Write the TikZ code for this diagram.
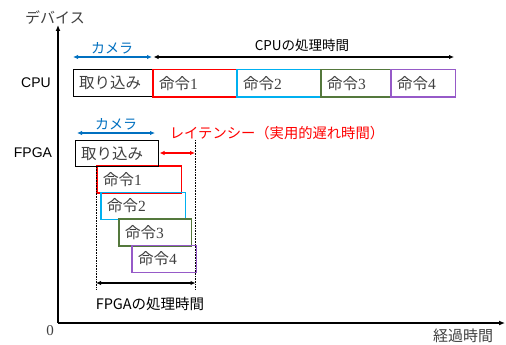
\documentclass[tikz,border=0pt]{standalone}
\usepackage{fontspec}
\setmainfont{Liberation Serif}
\newfontfamily\jp{Noto Sans CJK JP}
\newfontfamily\ar{Liberation Sans}
\usetikzlibrary{arrows.meta}
\definecolor{camblue}{RGB}{0,112,192}
\definecolor{cyanbox}{RGB}{0,176,240}
\definecolor{greenbox}{RGB}{84,120,60}
\definecolor{purplebox}{RGB}{150,90,200}
\definecolor{txtgray}{RGB}{64,64,64}
\begin{document}
\begin{tikzpicture}[x=1pt,y=-1pt,
  >={Latex[length=5pt,width=4.5pt]},
  tb/.style={rectangle, anchor=north west, inner xsep=6pt, inner ysep=0pt,
    align=left, font=\fontsize{15.5}{15.5}\selectfont, text=txtgray},
  cpubox/.style={tb, minimum height=27pt},
  fpgabox/.style={tb, minimum height=26.5pt},
  frame/.style={line width=1.3pt},
  lab/.style={font=\ar\fontsize{14}{14}\selectfont, inner sep=0pt},
  jlab/.style={font=\jp\fontsize{13.5}{14}\selectfont, inner sep=0pt},
  glab/.style={font=\jp\fontsize{15}{15}\selectfont, text=txtgray, inner sep=0pt},
  dimline/.style={line width=1.1pt, <->},
  guide/.style={densely dotted, line width=0.6pt}
]
\useasboundingbox (0,0) rectangle (506,345);
\fill[white] (0,0) rectangle (506,345);

% CPU boxes (text)
\node[cpubox, text width=68pt] (ct) at (73,69.5) {\jp 取り込み};
\node[cpubox, text width=72pt] (c1) at (153,69.5) {{\jp 命令}1};
\node[cpubox, text width=72pt] (c2) at (237,69.5) {{\jp 命令}2};
\node[cpubox, text width=58pt] (c3) at (321,69.5) {{\jp 命令}3};
\node[cpubox, text width=52pt] (c4) at (391,69.5) {{\jp 命令}4};

% FPGA boxes (text)
\node[fpgabox, text width=72pt] (f1) at (97,166) {{\jp 命令}1};
\node[fpgabox, text width=72pt] (f2) at (101,192.5) {{\jp 命令}2};
\node[fpgabox, text width=60pt] (f3) at (119,219) {{\jp 命令}3};
\node[fpgabox, text width=52pt] (f4) at (132,245.5) {{\jp 命令}4};
\node[fpgabox, text width=71pt] (ft) at (75,140) {\jp 取り込み};

% frames
\draw[frame, black, line width=1pt] (ct.north west) rectangle (ct.south east);
\draw[frame, red] (c1.north west) rectangle (c1.south east);
\draw[frame, cyanbox] (c2.north west) rectangle (c2.south east);
\draw[frame, greenbox] (c3.north west) rectangle (c3.south east);
\draw[frame, purplebox] (c4.north west) rectangle (c4.south east);
\draw[frame, red] (f1.north west) rectangle (f1.south east);
\draw[frame, cyanbox] (f2.north west) rectangle (f2.south east);
\draw[frame, greenbox] (f3.north west) rectangle (f3.south east);
\draw[frame, purplebox] (f4.north west) rectangle (f4.south east);
\draw[frame, black, line width=1pt] (ft.north west) rectangle (ft.south east);

% axes
\coordinate (o) at (58,323);
\coordinate (xe) at (505,323);
\coordinate (ye) at (58,25);
\draw[line width=1.5pt, -{Latex[length=6pt,width=5pt]}] (o) -- (xe);
\draw[line width=1.5pt, -{Latex[length=6pt,width=5pt]}] (o) -- (ye);
\node[glab] (dev) at (55,18) {デバイス};
\node[font=\fontsize{15}{15}\selectfont, text=txtgray, inner sep=0pt] (zero) at (50,331) {0};
\node[glab] (el) at (463,336) {経過時間};

% row labels
\node[lab] (lcpu) at (36,83) {CPU};
\node[lab] (lfpga) at (33,153) {FPGA};

% CPU dimension arrows
\coordinate (ca1) at (73,57);
\coordinate (ca2) at (152,57);
\coordinate (cp1) at (153.5,57);
\coordinate (cp2) at (454,57);
\draw[dimline, draw=camblue, fill=camblue] (ca1) -- (ca2);
\draw[dimline, draw=black, fill=black] (cp1) -- (cp2);
\node[jlab, text=camblue, font=\jp\fontsize{14}{14}\selectfont] (cam1) at (112,48) {カメラ};
\node[jlab] (cpt) at (302,45) {CPUの処理時間};

% guides
\coordinate (gl1) at (96,167);
\coordinate (gl2) at (96,290);
\coordinate (gr1) at (195.5,140);
\coordinate (gr2) at (195.5,290);
\draw[guide] (gl1) -- (gl2);
\draw[guide] (gr1) -- (gr2);

% FPGA dimension arrows
\coordinate (fa1) at (77,133);
\coordinate (fa2) at (155,133);
\draw[dimline, draw=camblue, fill=camblue] (fa1) -- (fa2);
\node[jlab, text=camblue, font=\jp\fontsize{14}{14}\selectfont] (cam2) at (116,124) {カメラ};

\coordinate (la1) at (159.5,153);
\coordinate (la2) at (195,153);
\draw[line width=1.6pt, <->, draw=red, fill=red] (la1) -- (la2);
\node[jlab, text=red, font=\jp\fontsize{14.3}{14}\selectfont] (lat) at (277,133) {レイテンシー（実用的遅れ時間）};

\coordinate (fp1) at (96,283);
\coordinate (fp2) at (195.5,283);
\draw[dimline, draw=black, fill=black] (fp1) -- (fp2);
\node[jlab, font=\jp\fontsize{14.5}{14}\selectfont] (fpt) at (150,304) {FPGAの処理時間};
\end{tikzpicture}
\end{document}
